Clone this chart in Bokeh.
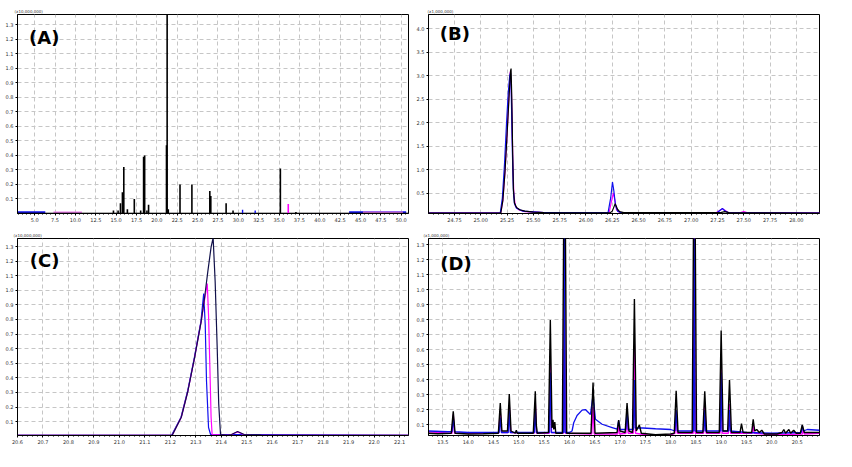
from bokeh.plotting import figure
from bokeh.models import Range1d, FixedTicker, PrintfTickFormatter, Label, Title
from bokeh.layouts import gridplot
from bokeh.embed import file_html
from bokeh.resources import INLINE

BLACK = "#000000"
PINK = "#ff00ff"
BLUE = "#1010ee"

# ---------------- Panel (A): full chromatogram, spikes (rt, height x10^7)
a_black_rt = [14.67, 15.24, 15.53, 15.77, 15.94, 16.38, 17.23, 18.01, 18.37, 18.50,
              18.78, 18.98, 21.18, 21.26, 21.40, 22.84, 24.30, 26.50, 26.62, 28.50,
              29.35, 35.16, 37.07]
a_black_h = [0.02, 0.02, 0.07, 0.146, 0.32, 0.03, 0.10, 0.02, 0.39, 0.40,
             0.02, 0.06, 0.47, 1.50, 0.03, 0.20, 0.20, 0.155, 0.12, 0.07,
             0.02, 0.31, 0.01]
a_pink_rt = [36.13]
a_pink_h = [0.065]
a_blue_rt = [30.52, 32.07]
a_blue_h = [0.025, 0.02]
a_blue_base_x0 = [2.9, 43.6]
a_blue_base_x1 = [6.3, 50.6]
a_blue_base_y = [0.008, 0.008]
a_pink_base_x0 = [7.3, 45.3]
a_pink_base_x1 = [10.8, 50.2]
a_pink_base_y = [0.007, 0.007]
a_xticks = [5.0, 7.5, 10.0, 12.5, 15.0, 17.5, 20.0, 22.5, 25.0, 27.5, 30.0,
            32.5, 35.0, 37.5, 40.0, 42.5, 45.0, 47.5, 50.0]
a_yticks = [0.1, 0.2, 0.3, 0.4, 0.5, 0.6, 0.7, 0.8, 0.9, 1.0, 1.1, 1.2, 1.3]

# ---------------- Panel (B)
b_black_x = [24.50, 25.19, 25.21, 25.23, 25.25, 25.27, 25.283, 25.288, 25.295, 25.302,
             25.31, 25.32, 25.34, 25.37, 25.42, 25.50, 25.60, 25.75, 26.23, 26.25,
             26.278, 26.30, 26.32, 26.36, 27.28, 27.32, 27.36, 28.22]
b_black_y = [0.08, 0.08, 0.35, 0.95, 1.75, 2.6, 3.10, 3.15, 2.5, 1.5,
             0.6, 0.3, 0.2, 0.15, 0.12, 0.10, 0.09, 0.085, 0.085, 0.12,
             0.28, 0.16, 0.11, 0.09, 0.09, 0.11, 0.09, 0.08]
b_pink_x = [24.50, 25.19, 25.21, 25.23, 25.25, 25.27, 25.28, 25.29, 25.298, 25.305,
            25.315, 25.33, 25.36, 25.42, 25.60, 26.22, 26.24, 26.26, 26.275, 26.29,
            26.32, 27.24, 27.275, 27.297, 27.32, 27.35, 27.47, 27.50, 27.53, 28.22]
b_pink_y = [0.085, 0.085, 0.35, 0.95, 1.75, 2.7, 3.08, 2.8, 2.0, 1.1,
            0.45, 0.22, 0.15, 0.11, 0.09, 0.09, 0.3, 0.51, 0.35, 0.15,
            0.09, 0.09, 0.14, 0.17, 0.14, 0.09, 0.09, 0.11, 0.09, 0.085]
b_blue_x = [24.50, 25.185, 25.205, 25.225, 25.245, 25.26, 25.275, 25.283, 25.29, 25.30,
            25.31, 25.32, 25.34, 25.40, 25.60, 26.21, 26.235, 26.252, 26.265, 26.28,
            26.30, 26.33, 27.25, 27.275, 27.297, 27.32, 27.35, 28.22]
b_blue_y = [0.08, 0.08, 0.4, 1.1, 2.0, 2.6, 3.0, 3.05, 2.6, 1.4,
            0.55, 0.28, 0.18, 0.12, 0.09, 0.09, 0.4, 0.74, 0.55, 0.25,
            0.12, 0.09, 0.09, 0.14, 0.175, 0.13, 0.09, 0.08]
b_xticks = [24.75, 25.00, 25.25, 25.50, 25.75, 26.00, 26.25, 26.50, 26.75, 27.00,
            27.25, 27.50, 27.75, 28.00]
b_yticks = [0.5, 1.0, 1.5, 2.0, 2.5, 3.0, 3.5, 4.0]

# ---------------- Panel (C)
c_black_x = [20.60, 21.207, 21.243, 21.269, 21.295, 21.321, 21.334, 21.347, 21.36, 21.368,
             21.376, 21.384, 21.39, 21.397, 21.425, 21.44, 21.464, 21.49, 21.55, 21.56, 22.135]
c_black_y = [0.006, 0.006, 0.13, 0.31, 0.537, 0.786, 0.944, 1.126, 1.296, 1.36,
             1.058, 0.605, 0.22, 0.012, 0.006, 0.012, 0.032, 0.012, 0.009, 0.006, 0.006]
c_pink_x = [20.60, 21.207, 21.243, 21.269, 21.295, 21.321, 21.334, 21.345, 21.35, 21.355,
            21.36, 21.364, 21.425, 21.44, 21.464, 21.49, 21.52, 22.135]
c_pink_y = [0.006, 0.006, 0.13, 0.31, 0.537, 0.786, 0.93, 1.046, 0.83, 0.49,
            0.13, 0.012, 0.006, 0.012, 0.03, 0.01, 0.006, 0.006]
c_blue_x = [20.60, 21.205, 21.242, 21.268, 21.294, 21.32, 21.331, 21.337, 21.342, 21.35,
            21.358, 22.135]
c_blue_y = [0.006, 0.006, 0.13, 0.31, 0.537, 0.786, 0.978, 0.764, 0.378, 0.06,
            0.012, 0.006]
c_xticks = [20.6, 20.7, 20.8, 20.9, 21.0, 21.1, 21.2, 21.3, 21.4, 21.5, 21.6, 21.7,
            21.8, 21.9, 22.0, 22.1]
c_yticks = [0.1, 0.2, 0.3, 0.4, 0.5, 0.6, 0.7, 0.8, 0.9, 1.0, 1.1, 1.2, 1.3]

# ---------------- Panel (D)
d_black_x = [13.215, 13.40, 13.665, 13.704, 13.74, 14.00, 14.30, 14.595, 14.633, 14.665,
             14.775, 14.811, 14.845, 14.93, 14.95, 14.97, 15.285, 15.325, 15.345, 15.365,
             15.585, 15.622, 15.655, 15.675, 15.69, 15.71, 15.73, 15.86, 15.885, 15.92,
             15.945, 16.425, 16.466, 16.505, 16.94, 16.972, 17.00, 17.10, 17.138, 17.175,
             17.245, 17.283, 17.32, 17.38, 17.42, 17.70, 18.00, 18.07, 18.108, 18.145,
             18.425, 18.45, 18.485, 18.51, 18.635, 18.673, 18.71, 18.96, 18.997, 19.035,
             19.125, 19.162, 19.20, 19.37, 19.399, 19.43, 19.60, 19.63, 19.66, 19.70,
             19.75, 19.80, 19.85, 20.10, 20.20, 20.235, 20.27, 20.335, 20.37, 20.43,
             20.48, 20.56, 20.60, 20.64, 20.94]
d_black_y = [0.045, 0.042, 0.045, 0.192, 0.045, 0.04, 0.042, 0.045, 0.247, 0.06,
             0.06, 0.306, 0.06, 0.045, 0.065, 0.045, 0.045, 0.324, 0.10, 0.045,
             0.05, 0.80, 0.08, 0.135, 0.07, 0.12, 0.045, 0.045, 1.40, 1.40,
             0.045, 0.045, 0.383, 0.045, 0.05, 0.133, 0.06, 0.05, 0.247, 0.06,
             0.05, 0.939, 0.06, 0.10, 0.045, 0.035, 0.04, 0.045, 0.328, 0.05,
             0.05, 1.40, 1.40, 0.05, 0.05, 0.324, 0.05, 0.05, 0.73, 0.06,
             0.06, 0.40, 0.05, 0.05, 0.109, 0.05, 0.05, 0.137, 0.06, 0.07,
             0.05, 0.065, 0.04, 0.04, 0.05, 0.07, 0.045, 0.07, 0.045, 0.065,
             0.045, 0.045, 0.10, 0.05, 0.05]
d_pink_x = [13.215, 13.45, 13.60, 13.68, 13.704, 13.73, 14.60, 14.633, 14.66, 14.785,
            14.811, 14.84, 15.30, 15.325, 15.35, 15.60, 15.622, 15.645, 15.88, 15.90,
            15.92, 16.44, 16.466, 16.49, 16.95, 16.972, 16.99, 17.115, 17.138, 17.16,
            17.26, 17.283, 17.305, 17.60, 18.00, 18.085, 18.108, 18.13, 18.445, 18.465,
            18.485, 18.65, 18.673, 18.70, 18.975, 18.997, 19.02, 19.14, 19.162, 19.185,
            19.61, 19.63, 19.65, 20.00, 20.60, 20.62, 20.64, 20.94]
d_pink_y = [0.055, 0.05, 0.045, 0.045, 0.17, 0.045, 0.045, 0.19, 0.05, 0.05,
            0.23, 0.05, 0.045, 0.25, 0.045, 0.045, 0.50, 0.05, 0.045, 0.93,
            0.045, 0.04, 0.22, 0.04, 0.04, 0.10, 0.04, 0.045, 0.19, 0.045,
            0.045, 0.64, 0.045, 0.03, 0.035, 0.045, 0.19, 0.045, 0.045, 1.40,
            0.045, 0.045, 0.25, 0.045, 0.045, 0.50, 0.045, 0.045, 0.24, 0.045,
            0.045, 0.10, 0.045, 0.035, 0.04, 0.07, 0.04, 0.045]
d_blue_x = [13.215, 13.60, 13.68, 13.704, 13.73, 14.00, 14.61, 14.633, 14.655, 14.79,
            14.811, 14.83, 15.305, 15.325, 15.345, 15.60, 15.622, 15.64, 15.885, 15.90,
            15.915, 16.00, 16.051, 16.084, 16.15, 16.249, 16.315, 16.414, 16.466, 16.513,
            16.645, 16.843, 16.942, 16.972, 17.00, 17.115, 17.138, 17.16, 17.265, 17.283,
            17.30, 17.45, 17.70, 18.00, 18.085, 18.108, 18.13, 18.45, 18.465, 18.48,
            18.655, 18.673, 18.69, 18.98, 18.997, 19.015, 19.145, 19.162, 19.18, 19.50,
            20.00, 20.58, 20.60, 20.62, 20.70, 20.94]
d_blue_y = [0.06, 0.055, 0.055, 0.15, 0.055, 0.05, 0.05, 0.15, 0.05, 0.05,
            0.20, 0.05, 0.05, 0.20, 0.05, 0.05, 0.45, 0.05, 0.05, 1.40,
            0.05, 0.05, 0.06, 0.115, 0.163, 0.199, 0.203, 0.17, 0.30, 0.138,
            0.105, 0.083, 0.072, 0.13, 0.07, 0.07, 0.20, 0.07, 0.07, 0.40,
            0.08, 0.08, 0.075, 0.07, 0.06, 0.20, 0.06, 0.06, 1.40, 0.06,
            0.06, 0.20, 0.06, 0.06, 0.45, 0.06, 0.06, 0.20, 0.06, 0.05,
            0.045, 0.05, 0.10, 0.06, 0.07, 0.065]
d_xticks = [13.5, 14.0, 14.5, 15.0, 15.5, 16.0, 16.5, 17.0, 17.5, 18.0, 18.5, 19.0,
            19.5, 20.0, 20.5]
d_yticks = [0.1, 0.2, 0.3, 0.4, 0.5, 0.6, 0.7, 0.8, 0.9, 1.0, 1.1, 1.2, 1.3]

FONT = "DejaVu Sans"


def minor_of(ticks, n):
    step = (ticks[1] - ticks[0]) / n
    out = []
    start = ticks[0] - step * n
    for k in range(len(ticks) * n + 2 * n):
        out.append(round(start + k * step, 4))
    return out


def panel(w, h, xr, yr, xticks, xfmt, yticks, yfmt, header, letter, letter_xy,
          borders, header_offset):
    left, right, top, bottom = borders
    p = figure(width=w, height=h, x_range=Range1d(*xr), y_range=Range1d(*yr),
               output_backend="svg", toolbar_location=None,
               min_border_left=left, min_border_right=right,
               min_border_top=top, min_border_bottom=bottom)
    p.title = Title(text=header, text_font_size="4px", text_font=FONT,
                    text_font_style="normal", text_color="#333333",
                    align="left", standoff=1, offset=header_offset)
    p.background_fill_color = "white"
    p.border_fill_color = "white"
    p.outline_line_color = "black"
    p.outline_line_width = 1
    xt = FixedTicker(ticks=xticks, minor_ticks=minor_of(xticks, 5))
    yt = FixedTicker(ticks=yticks)
    p.xaxis.ticker = xt
    p.yaxis.ticker = yt
    p.xgrid.ticker = xt
    p.ygrid.ticker = yt
    p.xaxis.formatter = PrintfTickFormatter(format=xfmt)
    p.yaxis.formatter = PrintfTickFormatter(format=yfmt)
    for ax in (p.xaxis, p.yaxis):
        ax.major_label_text_font_size = "5px"
        ax.major_label_text_font = FONT
        ax.major_label_text_color = "#333333"
        ax.major_label_standoff = 2
        ax.major_tick_out = 2
        ax.major_tick_in = 0
        ax.minor_tick_out = 1
        ax.minor_tick_in = 0
        ax.axis_line_color = "black"
        ax.major_tick_line_color = "black"
        ax.minor_tick_line_color = "black"
    p.yaxis.minor_tick_line_color = None
    for g in (p.xgrid, p.ygrid):
        g.grid_line_color = "#c6c6c6"
        g.grid_line_dash = "4 3"
        g.grid_line_width = 1
    p.add_layout(Label(x=letter_xy[0], y=letter_xy[1], text=letter,
                       text_font=FONT, text_font_size="18px",
                       text_font_style="bold", text_color="black",
                       text_baseline="top", text_align="left"))
    return p


# (A)
pA = panel(412, 226, (2.89, 50.89), (0.0, 1.37), a_xticks, "%.1f", a_yticks, "%.1f",
           "(x10,000,000)", "(A)", (4.3, 1.285), (16, 3, 10, 10), -3)
pA.segment(x0=a_blue_base_x0, y0=a_blue_base_y, x1=a_blue_base_x1, y1=a_blue_base_y,
           line_color=BLUE, line_width=2)
pA.segment(x0=a_pink_base_x0, y0=a_pink_base_y, x1=a_pink_base_x1, y1=a_pink_base_y,
           line_color="#f080f0", line_width=2)
pA.segment(x0=[2.89], y0=[0.002], x1=[50.89], y1=[0.002], line_color=BLACK, line_width=1)
pA.segment(x0=a_black_rt, y0=[0] * len(a_black_rt), x1=a_black_rt, y1=a_black_h,
           line_color=BLACK, line_width=1.6)
pA.segment(x0=a_pink_rt, y0=[0] * len(a_pink_rt), x1=a_pink_rt, y1=a_pink_h,
           line_color=PINK, line_width=1.6)
pA.segment(x0=a_blue_rt, y0=[0] * len(a_blue_rt), x1=a_blue_rt, y1=a_blue_h,
           line_color=BLUE, line_width=1.4)

# (B)
pB = panel(440, 226, (24.503, 28.22), (0.07, 4.30), b_xticks, "%.2f", b_yticks, "%.1f",
           "(x1,000,000)", "(B)", (24.61, 4.12), (16, 33, 14, 13), -1)
pB.line(b_pink_x, b_pink_y, line_color=PINK, line_width=1.2)
pB.line(b_blue_x, b_blue_y, line_color=BLUE, line_width=1.2)
pB.line(b_black_x, b_black_y, line_color=BLACK, line_width=1.2)

# (C)
pC = panel(412, 241, (20.6, 22.135), (0.005, 1.355), c_xticks, "%.1f", c_yticks, "%.1f",
           "(x10,000,000)", "(C)", (20.648, 1.275), (17, 4, 12, 30), -4)
pC.line(c_blue_x, c_blue_y, line_color=BLUE, line_width=1.2)
pC.line(c_pink_x, c_pink_y, line_color=PINK, line_width=1.2)
pC.line(c_black_x, c_black_y, line_color="#10104a", line_width=1.2)

# (D)
pD = panel(440, 241, (13.215, 20.94), (0.03, 1.343), d_xticks, "%.1f", d_yticks, "%.1f",
           "(x1,000,000)", "(D)", (13.447, 1.249), (16, 33, 10, 32), -5)
pD.line(d_pink_x, d_pink_y, line_color=PINK, line_width=1.4)
pD.line(d_blue_x, d_blue_y, line_color=BLUE, line_width=1.3)
pD.line(d_black_x, d_black_y, line_color=BLACK, line_width=1.4)

grid = gridplot([[pA, pB], [pC, pD]], toolbar_location=None)
open("out.html", "w").write(file_html(grid, INLINE))
